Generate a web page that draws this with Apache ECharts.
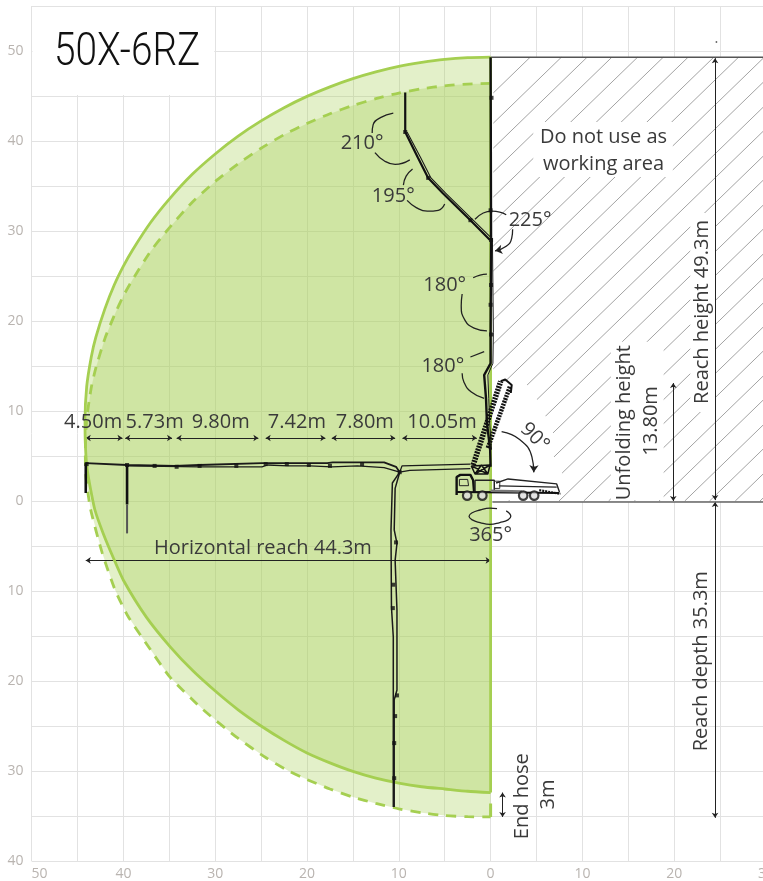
<!DOCTYPE html>
<html><head><meta charset="utf-8">
<style>html,body{margin:0;padding:0;background:#fff}#c{width:763px;height:881px}</style>
<script src="https://cdn.jsdelivr.net/npm/echarts@6/dist/echarts.min.js"></script>
</head><body><div id="c"></div>
<script>
// ---- reach envelopes [metres from truck axis, metres above ground]
const reachSolid = [[0,49.33],[-2.5,49.27],[-5,49.08],[-7.5,48.74],[-10,48.29],[-12.5,47.68],[-15,46.93],[-17.5,46.02],[-20,44.96],[-22.5,43.7],[-25,42.23],[-27.5,40.54],[-30,38.56],[-32.5,36.3],[-35,33.55],[-37,31],[-39,27.9],[-40,26.1],[-41,24],[-42,21.4],[-43,18.2],[-43.5,16],[-44,12.7],[-44.18,8.9],[-44.15,6.5],[-44,4],[-43.7,2],[-43.1,-1],[-42.2,-3.6],[-41.1,-6.3],[-40,-8.8],[-37.5,-12.9],[-34.9,-16.2],[-32.4,-18.9],[-29.9,-21.2],[-27.5,-23.2],[-25,-25],[-22.5,-26.6],[-20,-28],[-17.5,-29.1],[-15,-30.05],[-12.5,-30.8],[-10,-31.35],[-7.5,-31.75],[-5,-32],[-2.5,-32.25],[0,-32.4]];
const reachDashed = [[0,46.4],[-2.5,46.33],[-5,46.13],[-7.5,45.8],[-10,45.33],[-12.5,44.7],[-15,43.95],[-17.5,43.03],[-20,41.95],[-22.5,40.7],[-25,39.2],[-27.5,37.47],[-30,35.5],[-32.5,33.2],[-35,30.35],[-37,27.8],[-39,24.6],[-40,22.8],[-41,20.6],[-42,18.1],[-43,14.8],[-43.5,12.6],[-44,9.1],[-44.15,5.3],[-44.1,2.9],[-43.6,-0.8],[-42.3,-5.8],[-40.9,-9.9],[-39.5,-12.8],[-37.4,-16],[-34.9,-19.6],[-31.3,-23.2],[-27.6,-26.3],[-24.5,-28.5],[-22,-30],[-20,-30.95],[-17.5,-32],[-15,-32.9],[-12.5,-33.6],[-10,-34.2],[-7.5,-34.65],[-5,-34.95],[-2.5,-35.08],[0,-35.1]];
const hoseEdge = [[0,-32.4],[0,49.3]];
const hoseEdgeDashed = [[0,-33.6],[0,-35.1]];

// ---- hatched no-go area
const hatchBox = [[0,49.3],[30.5,49.3],[30.5,0],[0,0]];
const hatchTopX = [4.3,7.7,10.5,13.2,16,18.8,21.5,24.3,27,29.8,32.5,35.3,38,40.8,43.5,46.3,49,51.8,54.5,57.3,60,62.7,65.5,68.2,71,73.7,76.5,79.2];
const gapDoNotUse = [[4.65,42.1],[19.85,42.1],[19.85,36],[4.65,36]];
const gapReachHeight = [[21.75,32],[24.55,32],[24.55,9.9],[21.75,9.9]];
const gapUnfolding = [[13.1,17.7],[18.85,17.7],[18.85,0.1],[13.1,0.1]];
const gapTruck = [[0.1,13.2],[0.5,13.2],[3.6,13.4],[4.8,11.8],[5.7,9.9],[6.8,8.1],[6.8,5.1],[7.8,3.2],[7.3,0.1],[0.1,0.1]];
const titleBox = [[-49.9,54.9],[-30.1,54.9],[-30.1,45.1],[-49.9,45.1]];
const topEdge = [[0,49.3],[30.5,49.3]];
const groundEdge = [[0.2,-0.1],[30.5,-0.1]];

// ---- boom, unfolded upward
const upperMast = [[0,49.3],[0.05,29.2],[0,18.7],[0,15.3],[-0.7,14],[-0.5,11.4],[-0.4,8.7],[-0.05,5.7],[0,3.8]];
const upperMast2 = [[0.2,29.2],[0.3,18.7],[0.25,15.3],[-0.3,14],[-0.2,11.4],[-0.1,8.7],[0.1,5.7]];
const upperArm = [[-9.3,45.4],[-9.3,41],[-7.9,38.1],[-6.8,35.9],[-5.2,34.2],[-2.2,31.2],[-0.07,29]];
const upperArm2 = [[-9.1,41],[-7.6,38.1],[-6.5,35.9],[-4.9,34.2],[-1.9,31.2],[0.1,29.2]];
const upperKnots = [[-9.3,41],[-6.8,35.9],[-2.2,31.2],[0.05,29],[0.1,44.8],[0,32.3],[0.05,24],[0,21.8],[0.05,18.5]];

// ---- boom, horizontal reach
const horizUpper = [[-44.1,4.2],[-39.6,4],[-34.4,3.9],[-31.7,4],[-24.9,4.2],[-22.1,4.2],[-17.8,4.2],[-17.2,4.3],[-11.6,4.3],[-10.3,3.8],[-9.9,3.2]];
const horizLower = [[-39.6,3.9],[-31.7,3.8],[-24.9,3.8],[-24.3,4],[-22.1,3.9],[-19.7,3.9],[-17.3,3.8],[-14.5,3.9],[-11.6,3.7],[-9.9,3.2]];
const horizRootUpper = [[-9.9,3.2],[-9.65,3.9],[-9.5,4.1],[-2.2,4.1]];
const horizRootLower = [[-9.9,3.2],[-8.8,3.4],[-2.2,3.6]];
const tipHose1 = [[-44.1,4.2],[-44.1,0.9]];
const tipHose2 = [[-39.6,4],[-39.6,-0.4]];
const tipHose2End = [[-39.6,-0.4],[-39.6,-3.6]];
const horizKnots = [[-44,4.1],[-39.6,4],[-36.6,3.9],[-34.2,3.8],[-31.7,3.9],[-27.7,3.9],[-24.5,4.1],[-22.2,4.1],[-19.8,4],[-17.5,3.9],[-14,4.1],[-9.9,3.2]];

// ---- boom, downward reach
const downLeft = [[-9.9,3.2],[-10.7,2],[-10.85,-3.2],[-10.8,-11.8],[-10.6,-15.1],[-10.6,-34]];
const downRight = [[-9.9,3.2],[-10.4,1.4],[-10.5,-3.2],[-10.2,-4.7],[-10.4,-6.6],[-10.2,-12.1],[-10.2,-21],[-10.5,-22.1],[-10.5,-34]];
const downKnots = [[-10.3,-4.6],[-10.6,-9.3],[-10.65,-11.9],[-10.2,-21.6],[-10.4,-23.9],[-10.5,-26.9],[-10.5,-30.8]];

// ---- folded boom and truck
const foldedA = [[-1.9,4],[1.1,13.3]];
const foldedB = [[-0.3,5.9],[2.1,12.7]];
const foldedTip = [[1.1,13.3],[1.6,13.5],[2.3,12.9],[2.2,12]];
const turret = [[-2.1,3.9],[-0.07,4],[-0.3,3],[-1.7,3],[-2.1,3.9],[-0.3,3],[-1,4],[-1.7,3],[-0.07,4]];
const truckCab = [[-3.7,0.67],[-3.7,2.67],[-3.3,2.9],[-2.2,2.9],[-1.9,2.3],[-1.8,1]];
const truckWindow = [[-3.4,2.4],[-2.5,2.4],[-2.4,1.7],[-3.4,1.7],[-3.4,2.4]];
const truckBody = [[-1.7,2.3],[0.4,2.3],[0.4,1],[-1.7,1],[-1.7,2.3]];
const truckBox = [[0.4,2.2],[1,2.2],[1,1.4],[0.4,1.4]];
const truckChassis = [[-3.7,1],[7.5,0.9]];
const truckBar = [[0,1.15],[3.4,1.05]];
const truckDeckTop = [[0.6,2],[1.9,2.45],[7.2,1.9],[7.5,1]];
const truckDeckLow = [[0.9,1.67],[7.2,1.55]];
const truckRear = [[5.3,1.2],[7.6,0.8]];
const truckWheels = [[-2.55,0.6],[-0.9,0.6],[3.55,0.6],[4.75,0.6]];

// ---- angle arcs
const arcs = [
 [[-10.6,43.1],[-12,42.6],[-12.8,41.8],[-12.9,40.9]],
 [[-12.6,38.7],[-11.6,37.8],[-10.4,37.4],[-8.8,37.9]],
 [[-8.5,36.9],[-9.2,36.1],[-9.5,35.1]],
 [[-9.1,33.4],[-8.1,32.6],[-6.9,32.2],[-5.7,32.3],[-5,33]],
 [[-1.7,31.3],[-0.8,32],[0.15,32.2],[1,32.1],[1.7,31.8]],
 [[2.4,30.2],[2.3,29.2],[1.7,28.3],[0.5,27.8]],
 [[-1.9,24.8],[-1.15,25.1],[-0.4,25.2]],
 [[-3.1,23],[-3.2,21.7],[-2.8,20.1],[-1.8,19.2],[-0.4,18.9]],
 [[-2.2,16],[-0.7,16.6]],
 [[-3.1,14.2],[-2.9,13.2],[-2.1,12.1],[-0.7,11.4]],
 [[1.2,7.7],[3.2,6.8],[4.5,4.9],[4.7,3.2]],
 [[0.7,-0.85],[-0.07,-0.8],[-1.15,-1],[-2,-1.3],[-2.35,-1.7],[-2,-2.1],[-1.15,-2.4],[-0.07,-2.6],[1,-2.4],[1.9,-2.1],[2.2,-1.7],[1.7,-1.1]]
];
const arcHeads = [[[1.0,27.9],[0.5,27.8]],[[4.72,3.9],[4.7,3.2]]];

// ---- dimension arrows
const dimensions = [
 [[-44.1,7],[-40.1,7]],[[-39.8,7],[-34.7,7]],[[-34.2,7],[-25.3,7]],[[-24.5,7],[-18,7]],[[-17.3,7],[-10.4,7]],[[-9.6,7],[-1.5,7]],
 [[-44.1,-6.6],[0,-6.6]],
 [[24.45,49.2],[24.45,0.1]],[[24.45,-0.1],[24.45,-35.2]],
 [[19.9,13.1],[19.9,0]],
 [[1.3,-32.4],[1.3,-35.1]]
];
const topDot = [[24.6,51]];

// ---- text
const xTicks = [-50,-40,-30,-20,-10,0,10,20,30];
const yTicks = [-40,-30,-20,-10,0,10,20,30,40,50];
const flatTexts = ['210°','195°','225°','180°','180°','365°','4.50m','5.73m','9.80m','7.42m','7.80m','10.05m','Horizontal reach 44.3m','Do not use as','working area'];
const flatAnchors = [[-14,39.8],[-10.6,33.9],[4.3,31.2],[-5,24],[-5.2,15],[0,-3.8],[-43.3,8.7],[-36.6,8.7],[-29.4,8.7],[-21.1,8.7],[-13.7,8.7],[-5.3,8.7],[-24.8,-5.3],[12.3,40.4],[12.3,37.4]];
const uprightTexts = ['Reach height 49.3m','Unfolding height','13.80m','Reach depth 35.3m','End hose','3m'];
const uprightAnchors = [[23.1,21],[14.6,8.7],[17.5,8.9],[23,-17.8],[3.5,-32.8],[6.25,-32.6]];
const swingText = ['90°'];
const swingAnchor = [[4.8,7.1]];
const titleText = ['50X-6RZ'];
const titleAnchor = [[-39.6,49.7]];

// ---- styles and helpers
const GREEN = '#a5cf51', FILL = 'rgba(165,207,81,0.31)', INK = '#1a1a1a', TEXT = '#3a3a3a';
const FONT = '"Open Sans", sans-serif';
const series = [];
function poly(points, fill, z){
  series.push({type:'custom', z, silent:true, clip:true, data:[0],
    renderItem:(p,api)=>({type:'polygon',shape:{points:points.map(q=>api.coord(q))},style:{fill,stroke:null}})});
}
function line(points, color, width, z, extra){
  series.push(Object.assign({type:'line', z, silent:true, symbol:'none', showSymbol:false, data:points,
    lineStyle:{color, width, cap:'butt'}}, extra||{}));
}
function knots(points, size, z){
  series.push({type:'scatter', z, silent:true, symbol:'rect', symbolSize:size, data:points, itemStyle:{color:'#111'}});
}
function texts(list, anchors, font, rotation, fill, z, scaleX){
  series.push({type:'custom', z, silent:true, clip:false, data:list.map((t,i)=>i),
    renderItem:(p,api)=>{const c=api.coord(anchors[p.dataIndex]);
      return {type:'text',x:c[0],y:c[1],rotation,scaleX:scaleX||1,style:{text:list[p.dataIndex],font,fill,align:'center',verticalAlign:'middle',textAlign:'center',textVerticalAlign:'middle'}};}});
}

// base whites
poly(titleBox,'#fff',1);
poly(hatchBox,'#fff',1);
// green envelopes
poly(reachSolid,FILL,2);
poly(reachDashed,FILL,2);
// hatch
series.push({type:'custom', z:3, silent:true, clip:true, data:hatchTopX,
  renderItem:(p,api)=>{const xt=api.value(0), k=0.989, x0=Math.max(0.3,xt-49.3/k), y0=49.3-(xt-x0)*k;
    const a=api.coord([x0,y0]), b=api.coord([xt,49.3]);
    return {type:'line',shape:{x1:a[0],y1:a[1],x2:b[0],y2:b[1]},style:{stroke:'#a3a3a3',lineWidth:1,fill:null}};},
  encode:{x:0}});
[gapDoNotUse,gapReachHeight,gapUnfolding,gapTruck].forEach(g=>poly(g,'#fff',4));
line(topEdge,'#555',1.5,5);
line(groundEdge,'#666',1.5,5);
// envelope outlines
line(reachDashed,GREEN,2.8,6,{smooth:0.2,lineStyle:{color:GREEN,width:2.8,type:[10,8]}});
line(hoseEdgeDashed,GREEN,3,6);
line(reachSolid,GREEN,2.8,6,{smooth:0.2});
line(hoseEdge,GREEN,2.8,6);
// dimensions
series.push({type:'line', z:7, silent:true, data:[], markLine:{silent:true, animation:false, symbol:['arrow','arrow'], symbolSize:5, label:{show:false},
  lineStyle:{color:'#222',width:1,type:'solid'}, data:dimensions.map(d=>[{coord:d[0]},{coord:d[1]}])}});
arcs.forEach(a=>line(a,'#222',1.3,7,{smooth:0.5}));
series.push({type:'line', z:7, silent:true, data:[], markLine:{silent:true, animation:false, symbol:['none','arrow'], symbolSize:7, label:{show:false},
  lineStyle:{color:'#222',width:1,type:'solid'}, data:arcHeads.map(d=>[{coord:d[0]},{coord:d[1]}])}});
knots(topDot,1.5,7);
// boom
line(upperMast,'#111',2.4,8);
line(upperMast2,INK,1,8);
line(upperArm,'#111',2.2,8);
line(upperArm2,INK,1.1,8);
knots(upperKnots,4,8);
line(horizUpper,INK,1.8,8);
line(horizLower,INK,1.3,8);
line(horizRootUpper,INK,1.3,8);
line(horizRootLower,INK,1.3,8);
line(tipHose1,'#111',2.6,8);
line(tipHose2,'#111',2.6,8);
line(tipHose2End,'#555',2,8);
knots(horizKnots,4,8);
line(downLeft,INK,1.5,8);
line(downRight,INK,1.5,8);
knots(downKnots,4,8);
line(foldedA,'#111',5.5,8,{lineStyle:{color:'#111',width:5.5,type:[2,1]}});
line(foldedB,'#111',4.5,8,{lineStyle:{color:'#111',width:4.5,type:[2,1]}});
line(foldedTip,'#111',2,8);
line(turret,'#111',1.5,8);
line(truckCab,'#111',2.4,8);
line(truckWindow,'#222',1,8);
line(truckBody,'#222',1.5,8);
line(truckBox,'#333',1,8);
line(truckChassis,'#111',2,8);
line(truckBar,'#777',2.5,8);
line(truckDeckTop,'#222',1.4,8);
line(truckDeckLow,'#222',1.2,8);
line(truckRear,'#111',2.2,8,{lineStyle:{color:'#111',width:2.2,type:[2,1]}});
series.push({type:'scatter', z:9, silent:true, symbol:'circle', symbolSize:8.5, data:truckWheels, itemStyle:{color:'#ddd',borderColor:'#111',borderWidth:2.2}});
// text
texts(flatTexts,flatAnchors,'20px '+FONT,0,TEXT,10);
texts(uprightTexts,uprightAnchors,'20px '+FONT,Math.PI/2,TEXT,10);
texts(swingText,swingAnchor,'20px '+FONT,-Math.PI/4,TEXT,10);
texts(titleText,titleAnchor,'300 47px Roboto, sans-serif',0,'#111',10,0.825);

const gridLine = {show:true, lineStyle:{color:'#e2e2e2',width:1}};
const fmt = v => (xTicks.indexOf(v)>=0||yTicks.indexOf(v)>=0) && v%10===0 ? String(Math.abs(v)) : '';
const chart = echarts.init(document.getElementById('c'));
chart.setOption({
  animation:false, backgroundColor:'#fff',
  grid:{left:31.6, top:6, width:734.4, height:855, containLabel:false, outerBoundsMode:'none'},
  xAxis:{type:'value', min:-50, max:30, interval:5, axisLine:{show:false}, axisTick:{show:false}, splitLine:gridLine,
    axisLabel:{color:'#b9b4b0', fontSize:14, fontFamily:'"Open Sans"', margin:6, formatter:fmt, alignMinLabel:'left', hideOverlap:false, showMinLabel:true, showMaxLabel:true}},
  yAxis:{type:'value', min:-40, max:55, interval:5, axisLine:{show:false}, axisTick:{show:false}, splitLine:gridLine,
    axisLabel:{color:'#b9b4b0', fontSize:14, fontFamily:'"Open Sans"', margin:8, formatter:fmt}},
  series
});
</script></body></html>
